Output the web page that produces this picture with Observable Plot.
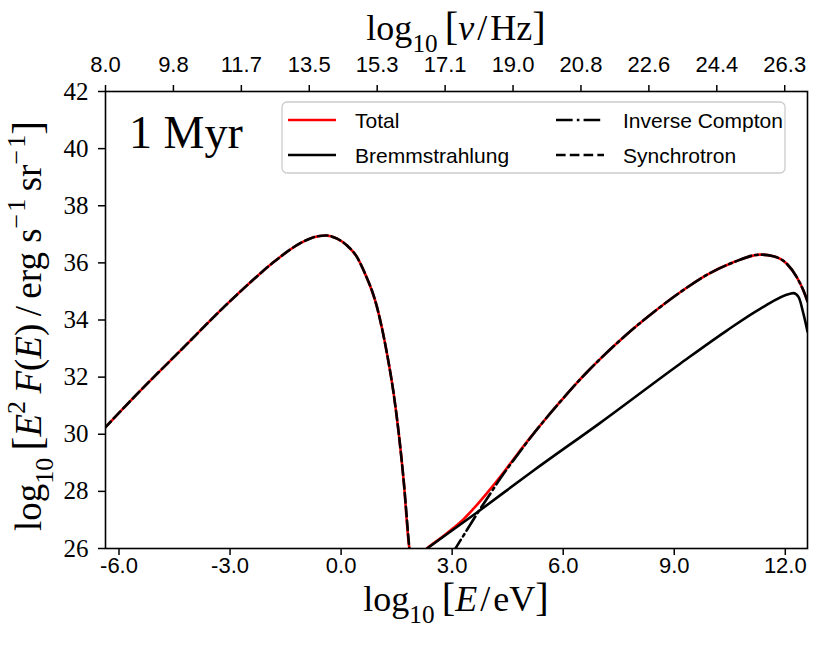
<!DOCTYPE html>
<html>
<head>
<meta charset="utf-8">
<script src="https://cdn.jsdelivr.net/npm/d3@7"></script>
<script src="https://cdn.jsdelivr.net/npm/@observablehq/plot@0.6"></script>
<style>
  html, body { margin: 0; padding: 0; background: white; }
</style>
</head>
<body>
<div id="chart"></div>
<script>
// ---- data (x = log10 E/eV, y = log10 E^2 F(E)) ----
const syncE = [-6.4, -6.32, -5.33, -4.34, -3.12, -2.45, -1.82, -1.10, -0.74, -0.42, -0.11, 0.16, 0.43, 0.61, 0.97, 1.24, 1.42, 1.56, 1.69, 1.84, 1.95];
const syncV = [30.2, 30.31, 31.65, 32.93, 34.51, 35.32, 36.03, 36.69, 36.9, 36.96, 36.85, 36.61, 36.2, 35.73, 34.45, 32.82, 31.42, 30.0, 28.38, 26.05, 24.5];

const bremE = [2.0, 2.32, 3.67, 5.2, 7.0, 9.16, 10.42, 11.32, 12.13, 12.22, 12.36, 12.49, 12.6];
const bremV = [25.7, 26.0, 27.26, 28.73, 30.4, 32.47, 33.63, 34.39, 34.92, 34.94, 34.8, 34.22, 33.6];

const icE = [3.0, 3.09, 3.31, 3.67, 4.03, 4.3, 4.75, 5.11, 5.5, 5.92, 6.37, 6.64, 7.05, 7.72, 8.44, 9.16, 9.88, 10.6, 11.32, 11.68, 12.04, 12.31, 12.49, 12.6];
const icV = [25.8, 26.0, 26.46, 27.21, 27.92, 28.45, 29.25, 29.87, 30.5, 31.14, 31.8, 32.17, 32.7, 33.5, 34.27, 34.97, 35.58, 36.02, 36.29, 36.23, 35.97, 35.5, 35.03, 34.65];

const totalE = [-6.4, -6.32, -5.33, -4.34, -3.12, -2.45, -1.82, -1.10, -0.74, -0.42, -0.11, 0.16, 0.43, 0.61, 0.97, 1.24, 1.42, 1.56, 1.69, 1.84, 1.95, 2.15, 2.32, 2.8, 3.0, 3.31, 3.67, 4.03, 4.44, 4.75, 5.11, 5.5, 5.92, 6.37, 6.64, 7.05, 7.72, 8.44, 9.16, 9.88, 10.6, 11.32, 11.68, 12.04, 12.31, 12.49, 12.6];
const totalV = [30.2, 30.31, 31.65, 32.93, 34.51, 35.32, 36.03, 36.69, 36.9, 36.96, 36.85, 36.61, 36.2, 35.73, 34.45, 32.82, 31.42, 30.0, 28.38, 26.05, 25.6, 25.8, 26.0, 26.47, 26.68, 27.03, 27.53, 28.08, 28.75, 29.28, 29.88, 30.5, 31.14, 31.8, 32.17, 32.7, 33.5, 34.27, 34.97, 35.58, 36.02, 36.29, 36.23, 35.97, 35.5, 35.03, 34.65];

const bottomTicks = [-6, -3, 0, 3, 6, 9, 12];
const bottomTickLabels = ["-6.0", "-3.0", "0.0", "3.0", "6.0", "9.0", "12.0"];
const leftTicks = [26, 28, 30, 32, 34, 36, 38, 40, 42];
const leftTickLabels = ["26", "28", "30", "32", "34", "36", "38", "40", "42"];
const topTickE = [-6.365, -4.53, -2.695, -0.86, 0.975, 2.81, 4.645, 6.48, 8.315, 10.15, 11.985];
const topTickLabels = ["8.0", "9.8", "11.7", "13.5", "15.3", "17.1", "19.0", "20.8", "22.6", "24.4", "26.3"];

const xDomain = [-6.365, 12.6];
const yDomain = [26, 42];

const toRows = (E, V) => E.map((e, i) => ({E: e, V: V[i]}));
const total = toRows(totalE, totalV);
const brem = toRows(bremE, bremV);
const ic = toRows(icE, icV);
const sync = toRows(syncE, syncV);

const LW = 2.6;
const SANS = "Liberation Sans, Arial, sans-serif";
const SERIF = "Liberation Serif, Times New Roman, serif";
const DASH = `${3.7*LW},${1.6*LW}`;
const DASHDOT = `${6.4*LW},${1.6*LW},${1*LW},${1.6*LW}`;
const XTICK_SIZE = 22;
const YTICK_SIZE = 25;

const chart = Plot.plot({
  width: 830,
  height: 646,
  marginLeft: 105,
  marginRight: 23,
  marginTop: 91,
  marginBottom: 98,
  x: {domain: xDomain},
  y: {domain: yDomain},
  style: {background: "white", color: "black"},
  marks: [
    Plot.line(total, {x: "E", y: "V", stroke: "#ff0000", strokeWidth: LW, curve: "monotone-x", clip: true}),
    Plot.line(brem, {x: "E", y: "V", stroke: "black", strokeWidth: LW, curve: "monotone-x", clip: true}),
    Plot.line(ic, {x: "E", y: "V", stroke: "black", strokeWidth: LW, curve: "monotone-x", clip: true, strokeDasharray: DASHDOT}),
    Plot.line(sync, {x: "E", y: "V", stroke: "black", strokeWidth: LW, curve: "monotone-x", clip: true, strokeDasharray: DASH}),
    // tick marks only
    Plot.axisX(bottomTicks, {anchor: "bottom", tickSize: 7, strokeWidth: 1.5, tickFormat: () => "", label: null}),
    Plot.axisX(topTickE, {anchor: "top", tickSize: 7, strokeWidth: 1.5, tickFormat: () => "", label: null}),
    Plot.axisY(leftTicks, {anchor: "left", tickSize: 7, strokeWidth: 1.5, tickFormat: () => "", label: null}),
    // tick labels
    Plot.text(bottomTicks, {x: d => d, y: () => yDomain[0], text: (d, i) => bottomTickLabels[i],
      dy: 17.5, lineAnchor: "middle", textAnchor: "middle", fontFamily: SANS, fontSize: XTICK_SIZE, fill: "black"}),
    Plot.text(topTickE, {x: d => d, y: () => yDomain[1], text: (d, i) => topTickLabels[i],
      dy: -26.5, lineAnchor: "middle", textAnchor: "middle", fontFamily: SANS, fontSize: XTICK_SIZE, fill: "black"}),
    Plot.text(leftTicks, {x: () => xDomain[0], y: d => d, text: (d, i) => leftTickLabels[i],
      dx: -17, lineAnchor: "middle", textAnchor: "end", fontFamily: SERIF, fontSize: YTICK_SIZE, fill: "black"}),
    Plot.frame({stroke: "black", strokeWidth: 1.6})
  ]
});

document.getElementById("chart").appendChild(chart);

const svg = d3.select(chart);

// make sure the tick label fonts are applied (inline style wins over inherited attributes)
svg.selectAll("text").each(function() {
  const s = this.textContent;
  const sel = d3.select(this);
  if (leftTickLabels.includes(s) && this.getAttribute("text-anchor") !== "middle") {
    sel.style("font-family", SERIF).style("font-size", YTICK_SIZE + "px");
  } else if (bottomTickLabels.includes(s) || topTickLabels.includes(s)) {
    sel.style("font-family", SANS).style("font-size", XTICK_SIZE + "px");
  }
});
svg.selectAll('g[aria-label="text"]').each(function(d, i) {
  const g = d3.select(this);
  if (i < 2) g.style("font-family", SANS).style("font-size", XTICK_SIZE + "px");
  else if (i === 2) g.style("font-family", SERIF).style("font-size", YTICK_SIZE + "px");
  g.selectAll("text").style("font-family", i < 2 ? SANS : SERIF).style("font-size", (i < 2 ? XTICK_SIZE : YTICK_SIZE) + "px");
});

function richText(x, y, parts, size, rotate) {
  const t = svg.append("text")
    .attr("font-family", SERIF)
    .attr("font-size", size)
    .attr("text-anchor", "middle")
    .attr("fill", "black");
  if (rotate) t.attr("transform", `translate(${x},${y}) rotate(-90)`).attr("x", 0).attr("y", 0);
  else t.attr("x", x).attr("y", y);
  let shift = 0;
  for (const p of parts) {
    const ts = t.append("tspan").text(p.t);
    const target = p.sub ? size * 0.32 : p.sup ? -size * 0.42 : 0;
    ts.attr("dy", target - shift);
    shift = target;
    if (p.sub || p.sup) ts.attr("font-size", size * 0.7);
    if (p.big) ts.attr("font-size", size * 1.12);
    if (p.it) ts.attr("font-style", "italic");
  }
  return t;
}

// top axis label: log10 [ν/Hz]
richText(456, 40, [
  {t: "log"}, {t: "10", sub: true}, {t: "\u2009"}, {t: "[", big: true}, {t: "ν", it: true}, {t: "\u200a/\u200aHz"}, {t: "]", big: true}
], 36);

// bottom axis label: log10 [E/eV]
richText(456, 611, [
  {t: "log"}, {t: "10", sub: true}, {t: "\u2009"}, {t: "[", big: true}, {t: "E", it: true}, {t: "\u200a/\u200aeV"}, {t: "]", big: true}
], 36);

// y axis label
richText(41, 326, [
  {t: "log"}, {t: "10", sub: true}, {t: "\u2009"}, {t: "[", big: true}, {t: "E", it: true}, {t: "2", sup: true},
  {t: "\u2009"}, {t: "F", it: true}, {t: "("}, {t: "E", it: true}, {t: ")\u2009/\u2009erg s"}, {t: "\u2212\u200a1", sup: true},
  {t: "\u2009sr"}, {t: "\u2212\u200a1", sup: true}, {t: "]", big: true}
], 37, true);

// "1 Myr" annotation
svg.append("text")
  .attr("x", 129).attr("y", 148)
  .attr("text-anchor", "start")
  .attr("font-family", SERIF).attr("font-size", 46)
  .attr("fill", "black")
  .text("1 Myr");

// legend
const lg = svg.append("g");
lg.append("rect")
  .attr("x", 282).attr("y", 102).attr("width", 503).attr("height", 71)
  .attr("rx", 5).attr("ry", 5)
  .attr("fill", "white").attr("fill-opacity", 0.8)
  .attr("stroke", "#cccccc").attr("stroke-width", 1.3);

const legendItems = [
  {label: "Total", color: "#ff0000", dash: null, x: 288, y: 120},
  {label: "Bremmstrahlung", color: "black", dash: null, x: 288, y: 155},
  {label: "Inverse Compton", color: "black", dash: DASHDOT, x: 556, y: 120},
  {label: "Synchrotron", color: "black", dash: DASH, x: 556, y: 155}
];
for (const it of legendItems) {
  const l = lg.append("line")
    .attr("x1", it.x).attr("x2", it.x + 48)
    .attr("y1", it.y).attr("y2", it.y)
    .attr("stroke", it.color).attr("stroke-width", LW);
  if (it.dash) l.attr("stroke-dasharray", it.dash);
  lg.append("text")
    .attr("x", it.x + 67).attr("y", it.y + 7.5)
    .attr("text-anchor", "start")
    .attr("font-family", SANS).attr("font-size", 21)
    .attr("fill", "black")
    .text(it.label);
}
</script>
</body>
</html>
